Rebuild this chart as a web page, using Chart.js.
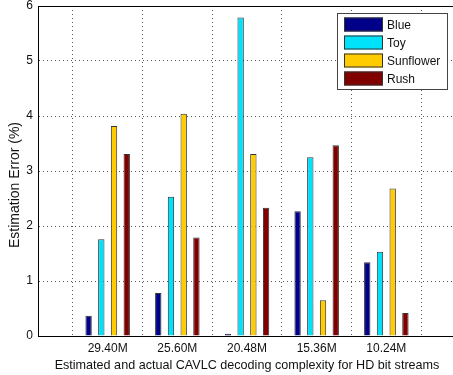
<!DOCTYPE html>
<html>
<head>
<meta charset="utf-8">
<script src="https://cdn.jsdelivr.net/npm/chart.js@4/dist/chart.umd.min.js"></script>
<style>
html,body{margin:0;padding:0;background:#fff;overflow:hidden;}
#clip{width:453px;height:375px;position:relative;overflow:hidden;}
#wrap{width:460px;height:375px;position:absolute;left:0;top:0;}
</style>
</head>
<body>
<div id="clip"><div id="wrap"><canvas id="c"></canvas></div></div>
<script>
const categories = ['', '29.40M', '25.60M', '20.48M', '15.36M', '10.24M', ''];
const seriesNames = ['Blue', 'Toy', 'Sunflower', 'Rush'];
const blueValues = [null, 0.37, 0.78, 0.04, 2.27, 1.34, null];
const toyValues = [null, 1.76, 2.53, 5.79, 3.25, 1.53, null];
const sunflowerValues = [null, 3.82, 4.04, 3.31, 0.65, 2.68, null];
const rushValues = [null, 3.31, 1.79, 2.33, 3.47, 0.42, null];
const yTicks = [0, 1, 2, 3, 4, 5, 6];
const yTitle = 'Estimation Error (%)';
const xTitle = 'Estimated and actual CAVLC decoding complexity for HD bit streams';
const colors = ['#000088', '#00E1FA', '#FFCC00', '#800000'];

const FONT = 'Liberation Sans, Arial, sans-serif';

const legendPlugin = {
  id: 'insideLegend',
  afterDraw(chart) {
    const ctx = chart.ctx;
    const a = chart.chartArea;
    ctx.save();
    ctx.strokeStyle = '#000';
    ctx.lineWidth = 1;
    ctx.setLineDash([]);
    ctx.strokeRect(Math.round(a.left) + 0.5, Math.round(a.top) + 0.5, Math.round(a.right - a.left) - 1, Math.round(a.bottom - a.top));
    // y axis title
    ctx.save();
    ctx.translate(15, 185);
    ctx.rotate(-Math.PI / 2);
    ctx.font = '14px ' + FONT;
    ctx.fillStyle = '#111';
    ctx.textAlign = 'center';
    ctx.textBaseline = 'middle';
    ctx.fillText(yTitle, 0, 0);
    ctx.restore();
    // legend
    const bx = 337, by = 13, bw = 110, bh = 76;
    ctx.fillStyle = '#fff';
    ctx.fillRect(bx, by, bw, bh);
    ctx.strokeStyle = '#444';
    ctx.strokeRect(bx + 0.5, by + 0.5, bw, bh);
    ctx.font = '12px ' + FONT;
    ctx.textBaseline = 'middle';
    ctx.textAlign = 'left';
    chart.data.datasets.forEach((ds, i) => {
      const cy = by + 11.5 + i * 18;
      ctx.fillStyle = ds.backgroundColor;
      ctx.fillRect(344, cy - 7, 39, 14);
      ctx.strokeStyle = '#333';
      ctx.strokeRect(344.5, cy - 6.5, 38, 13);
      ctx.fillStyle = '#111';
      ctx.fillText(ds.label, 387, cy + 1);
    });
    ctx.restore();
  }
};

const datasets = [blueValues, toyValues, sunflowerValues, rushValues].map((vals, i) => ({
  label: seriesNames[i],
  data: vals,
  backgroundColor: colors[i],
  borderColor: '#333',
  borderWidth: 1,
  borderSkipped: 'bottom',
  categoryPercentage: 0.73,
  barPercentage: 0.5
}));

new Chart(document.getElementById('c'), {
  type: 'bar',
  data: { labels: categories, datasets },
  options: {
    responsive: true,
    maintainAspectRatio: false,
    animation: false,
    layout: { padding: { top: 6, right: 4, left: 0, bottom: 0 } },
    plugins: { legend: { display: false }, tooltip: { enabled: false } },
    scales: {
      x: {
        offset: false,
        grid: { color: '#555', lineWidth: 1, drawTicks: false },
        border: { display: true, color: '#333', dash: [1, 3] },
        ticks: { color: '#111', font: { size: 12, family: FONT }, padding: 5, maxRotation: 0, autoSkip: false },
        title: { display: true, text: xTitle, color: '#111', font: { size: 12.6, family: FONT }, padding: { top: 1, bottom: 2 } },
        afterFit(s) { s.height = 39; s.paddingLeft = 0; s.paddingRight = 0; }
      },
      y: {
        min: 0, max: 6,
        afterBuildTicks(s) { s.ticks = yTicks.map(v => ({ value: v })); },
        grid: { color: '#555', lineWidth: 1, drawTicks: false },
        border: { display: true, color: '#333', dash: [1, 3] },
        ticks: { color: '#111', font: { size: 12, family: FONT }, padding: 5 },
        title: { display: false },
        afterFit(s) { s.width = 38; s.paddingTop = 0; s.paddingBottom = 0; }
      }
    }
  },
  plugins: [legendPlugin]
});
</script>
</body>
</html>
